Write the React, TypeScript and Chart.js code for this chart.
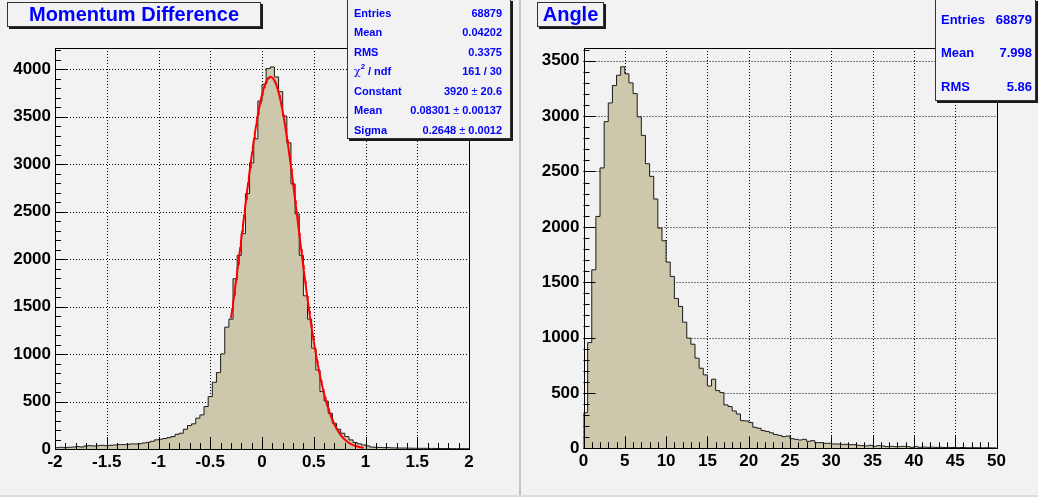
import React, { useEffect, useRef } from 'react';
import { Chart, registerables } from 'chart.js';

Chart.register(...registerables);

// ---------------- Data ----------------
const momRange = [-2, 2];
const momCounts = [
  14, 18, 14, 18, 21, 25, 21, 32, 35, 32, 35, 39, 35, 39, 42, 46, 46, 49, 53, 53, 56, 63, 70,
  81, 96, 103, 110, 120, 131, 155, 166, 208, 247, 265, 325, 359,
  447, 552, 703, 805, 1002, 1284, 1368, 1794, 2040, 2269, 2691, 3015, 3268, 3666, 3842, 4008, 4025,
  3920, 3765, 3508, 3226, 2793, 2476, 2040, 1614, 1368, 1062, 833, 605, 506, 376, 271, 208, 166, 131,
  96, 68, 54, 43, 33,
  21, 18, 16, 14, 14, 12, 11, 10, 10, 9, 8, 8, 7, 7, 6, 6, 5, 5, 5, 4, 4, 4, 3, 3,
];
const momXTicks = [-2, -1.5, -1, -0.5, 0, 0.5, 1, 1.5, 2];
const momYTicks = [0, 500, 1000, 1500, 2000, 2500, 3000, 3500, 4000];
const momYMax = 4225;
const momFit = { constant: 3920, mean: 0.08301, sigma: 0.2648 };
const momFitRange = [-0.3, 0.98];

const angRange = [0, 50];
const angCounts = [
  322, 955, 1612, 2094, 2532, 2950, 3119, 3276, 3369, 3445, 3382, 3300, 3203, 2993, 2826, 2570,
  2456, 2251, 1989, 1874, 1682, 1552, 1353, 1281, 1139, 995, 940, 814, 723, 663, 563, 624, 521,
  503, 392, 377, 337, 310, 250, 247, 233, 190, 181, 160, 152, 140, 125,
  117, 105, 111, 87, 81, 75, 81, 63, 69, 51, 51, 45, 45, 39, 39, 36, 36, 33, 33, 27, 24, 21, 27,
  18, 24, 21, 15, 18, 15, 15, 18, 15, 9, 15, 9,
  11, 9, 10, 8, 9, 7, 8, 7, 6, 7, 6, 5, 6, 5, 4, 5, 4, 4,
];
const angXTicks = [0, 5, 10, 15, 20, 25, 30, 35, 40, 45, 50];
const angYTicks = [0, 500, 1000, 1500, 2000, 2500, 3000, 3500];
const angYMax = 3615;

const momStats = [
  ['Entries', '68879'],
  ['Mean', '0.04202'],
  ['RMS', '0.3375'],
  ['CHI', '161 / 30'],
  ['Constant', '3920 ± 20.6'],
  ['Mean', '0.08301 ± 0.00137'],
  ['Sigma', '0.2648 ± 0.0012'],
];
const angStats = [
  ['Entries', '68879'],
  ['Mean', '7.998'],
  ['RMS', '5.86'],
];

// ---------------- Helpers ----------------
const FONT = "'Liberation Sans', Arial, Helvetica, sans-serif";
const BG = '#f2f2f2';
const FILL = 'rgb(205,200,172)';
const BLUE = '#0000ff';

function histPoints(range: number[], counts: number[]) {
  const [min, max] = range;
  const w = (max - min) / counts.length;
  const pts: { x: number; y: number }[] = [{ x: min, y: 0 }];
  counts.forEach((c, i) => pts.push({ x: min + i * w, y: c }));
  pts.push({ x: max, y: counts[counts.length - 1] });
  pts.push({ x: max, y: 0 });
  return pts;
}

function gausPoints(p: { constant: number; mean: number; sigma: number }, range: number[]) {
  const pts: { x: number; y: number }[] = [];
  const n = 200;
  for (let i = 0; i <= n; i++) {
    const x = range[0] + ((range[1] - range[0]) * i) / n;
    const z = (x - p.mean) / p.sigma;
    pts.push({ x, y: p.constant * Math.exp(-0.5 * z * z) });
  }
  return pts;
}

function makeAxesPlugin(xTicks: number[], yTicks: number[], xMinor: number, yMinor: number) {
  return {
    id: 'rootAxes',
    beforeDatasetsDraw(chart: any) {
      const { ctx, chartArea: a } = chart;
      const xs = chart.scales.x;
      const ys = chart.scales.y;
      ctx.save();
      ctx.strokeStyle = '#000';
      ctx.lineWidth = 1;
      ctx.setLineDash([1, 2]);
      ctx.beginPath();
      xTicks.forEach((v) => {
        const px = Math.round(xs.getPixelForValue(v)) + 0.5;
        ctx.moveTo(px, a.top);
        ctx.lineTo(px, a.bottom);
      });
      yTicks.forEach((v) => {
        const py = Math.round(ys.getPixelForValue(v)) + 0.5;
        ctx.moveTo(a.left, py);
        ctx.lineTo(a.right, py);
      });
      ctx.stroke();
      ctx.restore();
    },
    afterDatasetsDraw(chart: any) {
      const { ctx, chartArea: a } = chart;
      const xs = chart.scales.x;
      const ys = chart.scales.y;
      ctx.save();
      ctx.strokeStyle = '#000';
      ctx.lineWidth = 1;
      ctx.setLineDash([]);
      ctx.beginPath();
      const nx = Math.round((xs.max - xs.min) / xMinor);
      for (let k = 0; k <= nx; k++) {
        const v = xs.min + k * xMinor;
        const len = k % 5 === 0 ? 12 : 6;
        const px = Math.round(xs.getPixelForValue(v)) + 0.5;
        ctx.moveTo(px, a.bottom);
        ctx.lineTo(px, a.bottom - len);
      }
      const ny = Math.floor((ys.max - ys.min) / yMinor + 1e-6);
      for (let k = 0; k <= ny; k++) {
        const v = ys.min + k * yMinor;
        const len = k % 5 === 0 ? 12 : 6;
        const py = Math.round(ys.getPixelForValue(v)) + 0.5;
        ctx.moveTo(a.left, py);
        ctx.lineTo(a.left + len, py);
      }
      ctx.stroke();
      ctx.strokeRect(
        Math.round(a.left) + 0.5,
        Math.round(a.top) + 0.5,
        Math.round(a.right) - Math.round(a.left),
        Math.round(a.bottom) - Math.round(a.top)
      );
      ctx.restore();
    },
  };
}

function makeChart(
  canvas: HTMLCanvasElement,
  cfg: {
    range: number[];
    counts: number[];
    xTicks: number[];
    yTicks: number[];
    yMax: number;
    xMinor: number;
    padding: { left: number; right: number; top: number; bottom: number };
    fit?: { x: number; y: number }[];
  }
) {
  const datasets: any[] = [
    {
      data: histPoints(cfg.range, cfg.counts),
      stepped: true,
      borderColor: '#1a1a1a',
      borderWidth: 1,
      backgroundColor: FILL,
      fill: 'origin',
      pointRadius: 0,
      tension: 0,
      order: 2,
    },
  ];
  if (cfg.fit) {
    datasets.push({
      data: cfg.fit,
      borderColor: '#ff0000',
      borderWidth: 2,
      fill: false,
      pointRadius: 0,
      tension: 0,
      order: 1,
    });
  }
  const tickFont = { family: FONT, size: 17, weight: 'bold' as const };
  return new Chart(canvas, {
    type: 'line',
    data: { datasets },
    options: {
      animation: false,
      responsive: false,
      devicePixelRatio: 1,
      layout: { padding: cfg.padding },
      plugins: { legend: { display: false }, tooltip: { enabled: false } },
      elements: { point: { radius: 0 } },
      scales: {
        x: {
          type: 'linear',
          min: cfg.range[0],
          max: cfg.range[1],
          afterBuildTicks: (s: any) => {
            s.ticks = cfg.xTicks.map((v) => ({ value: v }));
          },
          afterFit: (s: any) => {
            s.height = 30;
          },
          grid: { display: false, drawTicks: false },
          border: { display: false },
          ticks: {
            font: tickFont,
            color: '#000',
            padding: 3,
            maxRotation: 0,
            autoSkip: false,
            callback: (v: any) => String(v),
          },
        },
        y: {
          type: 'linear',
          min: 0,
          max: cfg.yMax,
          afterBuildTicks: (s: any) => {
            s.ticks = cfg.yTicks.map((v) => ({ value: v }));
          },
          afterFit: (s: any) => {
            s.width = 50;
          },
          grid: { display: false, drawTicks: false },
          border: { display: false },
          ticks: {
            font: tickFont,
            color: '#000',
            padding: 4,
            autoSkip: false,
            callback: (v: any) => String(v),
          },
        },
      },
    } as any,
    plugins: [makeAxesPlugin(cfg.xTicks, cfg.yTicks, cfg.xMinor, 100)],
  });
}

// ---------------- Components ----------------
const boxStyle: React.CSSProperties = {
  position: 'absolute',
  background: BG,
  border: '1px solid #333',
  boxShadow: '2px 2px 0 #1a1a1a',
  boxSizing: 'border-box',
  fontFamily: FONT,
  fontWeight: 'bold',
  color: BLUE,
};

function Label({ text }: { text: string }) {
  if (text === 'CHI') {
    return (
      <span>
        <span style={{ fontWeight: 'normal', fontFamily: "'DejaVu Serif', serif", fontStyle: 'normal' }}>χ</span>
        <sup style={{ fontSize: '0.7em', verticalAlign: 'top', lineHeight: 1 }}>2</sup>
        {' / ndf'}
      </span>
    );
  }
  return <span>{text}</span>;
}

function Value({ text }: { text: string }) {
  const parts = text.split('±');
  if (parts.length === 1) return <span>{text}</span>;
  return (
    <span>
      {parts[0]}
      <span style={{ fontWeight: 'normal' }}>±</span>
      {parts[1]}
    </span>
  );
}

function StatsBox({
  rows,
  left,
  width,
  height,
  firstCenter,
  step,
  fontSize,
  padL,
  padR,
}: {
  rows: string[][];
  left: number;
  width: number;
  height: number;
  firstCenter: number;
  step: number;
  fontSize: number;
  padL: number;
  padR: number;
}) {
  return (
    <div style={{ ...boxStyle, left, top: -1, width, height: height + 1, fontSize }}>
      {rows.map((r, i) => (
        <div
          key={i}
          style={{
            position: 'absolute',
            left: padL,
            right: padR,
            top: firstCenter + 1 + i * step - 8,
            height: 16,
            lineHeight: '16px',
            display: 'flex',
            justifyContent: 'space-between',
            whiteSpace: 'nowrap',
          }}
        >
          <Label text={r[0]} />
          <Value text={r[1]} />
        </div>
      ))}
    </div>
  );
}

function TitleBox({ text, left, width }: { text: string; left: number; width: number }) {
  return (
    <div
      style={{
        ...boxStyle,
        left,
        top: 2,
        width,
        height: 25,
        fontSize: 20,
        lineHeight: '23px',
        textAlign: 'center',
        whiteSpace: 'nowrap',
      }}
    >
      {text}
    </div>
  );
}

export default function App() {
  const leftRef = useRef<HTMLCanvasElement | null>(null);
  const rightRef = useRef<HTMLCanvasElement | null>(null);

  useEffect(() => {
    const c1 = makeChart(leftRef.current!, {
      range: momRange,
      counts: momCounts,
      xTicks: momXTicks,
      yTicks: momYTicks,
      yMax: momYMax,
      xMinor: 0.1,
      padding: { left: 5, right: 1038 - 469, top: 48, bottom: 497 - 449 - 30 },
      fit: gausPoints(momFit, momFitRange),
    });
    const c2 = makeChart(rightRef.current!, {
      range: angRange,
      counts: angCounts,
      xTicks: angXTicks,
      yTicks: angYTicks,
      yMax: angYMax,
      xMinor: 1,
      padding: { left: 533.5, right: 1038 - 996.5, top: 48, bottom: 497 - 448.3 - 30 },
    });
    return () => {
      c1.destroy();
      c2.destroy();
    };
  }, []);

  const canvasStyle: React.CSSProperties = { position: 'absolute', left: 0, top: 0 };

  return (
    <div
      style={{
        position: 'fixed',
        left: 0,
        top: 0,
        width: 1038,
        height: 497,
        background: BG,
        overflow: 'hidden',
      }}
    >
      <div style={{ position: 'absolute', left: 519, top: 0, width: 2, height: 497, background: '#c4c4c4' }} />
      <div style={{ position: 'absolute', left: 0, top: 495, width: 1038, height: 2, background: '#dcdcdc' }} />
      <canvas ref={leftRef} width={1038} height={497} style={canvasStyle} />
      <canvas ref={rightRef} width={1038} height={497} style={canvasStyle} />
      <TitleBox text="Momentum Difference" left={7} width={254} />
      <TitleBox text="Angle" left={537} width={67} />
      <StatsBox
        rows={momStats}
        left={347}
        width={164}
        height={139}
        firstCenter={11.5}
        step={19.5}
        fontSize={11}
        padL={6}
        padR={8}
      />
      <StatsBox
        rows={angStats}
        left={935}
        width={101}
        height={101}
        firstCenter={18.5}
        step={33.7}
        fontSize={13}
        padL={5}
        padR={3}
      />
    </div>
  );
}
